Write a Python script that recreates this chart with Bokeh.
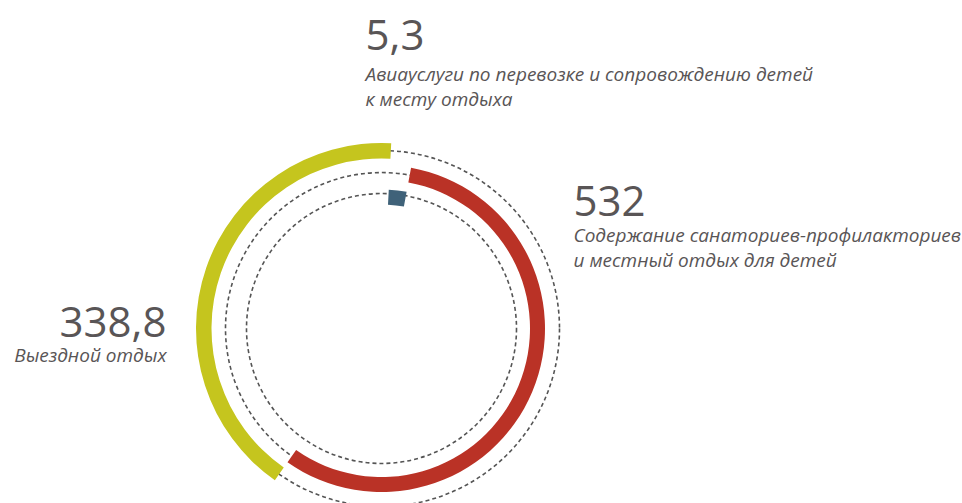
from bokeh.plotting import figure
from bokeh.models import ColumnDataSource
from bokeh.core.properties import value
from bokeh.embed import file_html
from bokeh.resources import INLINE
import numpy as np

# ---- data ----
categories = ["Авиауслуги", "Санатории", "Выездной"]
values = [5.3, 532.0, 338.8]
value_labels = ["5,3", "532", "338,8"]
desc_air = ["Авиауслуги по перевозке и сопровождению детей", "к месту отдыха"]
desc_san = ["Содержание санаториев-профилакториев", "и местный отдых для детей"]
desc_out = ["Выездной отдых"]
colors = ["#3F6279", "#BA3226", "#C5C51E"]

# ---- layout ----
W, H = 962, 503
cx, cy = 381, 175
band_inner = [124, 148.5, 170]
band_outer = [139, 163.5, 185.5]
guide_r = [135, 156, 178]
start_cw = 3.0          # degrees clockwise from 12 o'clock
power = 0.72            # angular scale exponent

p = figure(width=W, height=H, x_range=(0, W), y_range=(0, H),
           output_backend="svg", toolbar_location=None,
           x_axis_location=None, y_axis_location=None, min_border=0)
p.grid.visible = False
p.outline_line_color = None
p.background_fill_color = "white"
p.border_fill_color = "white"

# dashed guide circles
p.circle(x=[cx] * 3, y=[cy] * 3, radius=guide_r, fill_color=None,
         line_color="#555555", line_width=1.6, line_dash="4 3")

# angular scale: cumulative shares of full circle
w = np.array(values) ** power
spans = w / w.sum() * 360.0
ends = start_cw + np.cumsum(spans)
starts = ends - spans
src = ColumnDataSource(dict(
    x=[cx] * 3, y=[cy] * 3,
    ri=band_inner, ro=band_outer,
    sa=np.radians(90 - starts), ea=np.radians(90 - ends),
    color=colors, cat=categories,
))
p.annular_wedge(x="x", y="y", inner_radius="ri", outer_radius="ro",
                start_angle="sa", end_angle="ea", direction="clock",
                fill_color="color", line_color=None, source=src)

num_col = "#595556"
font = value("Open Sans")
num_size = "42px"
desc_size = "19px"
gap = 25

def block(x, y_num, y_desc, num, lines, align):
    p.text(x=[x], y=[y_num], text=[num], text_font=font,
           text_font_size=num_size, text_color=num_col,
           text_align=align, text_baseline="alphabetic")
    for i, ln in enumerate(lines):
        p.text(x=[x], y=[y_desc - i * gap], text=[ln], text_font=font,
               text_font_style="italic", text_font_size=desc_size,
               text_color=num_col, text_align=align,
               text_baseline="alphabetic")

block(365, 469, 430, value_labels[0], desc_air, "left")
block(573, 303, 269, value_labels[1], desc_san, "left")
block(166, 182, 149, value_labels[2], desc_out, "right")

open("out.html", "w").write(file_html(p, INLINE))
